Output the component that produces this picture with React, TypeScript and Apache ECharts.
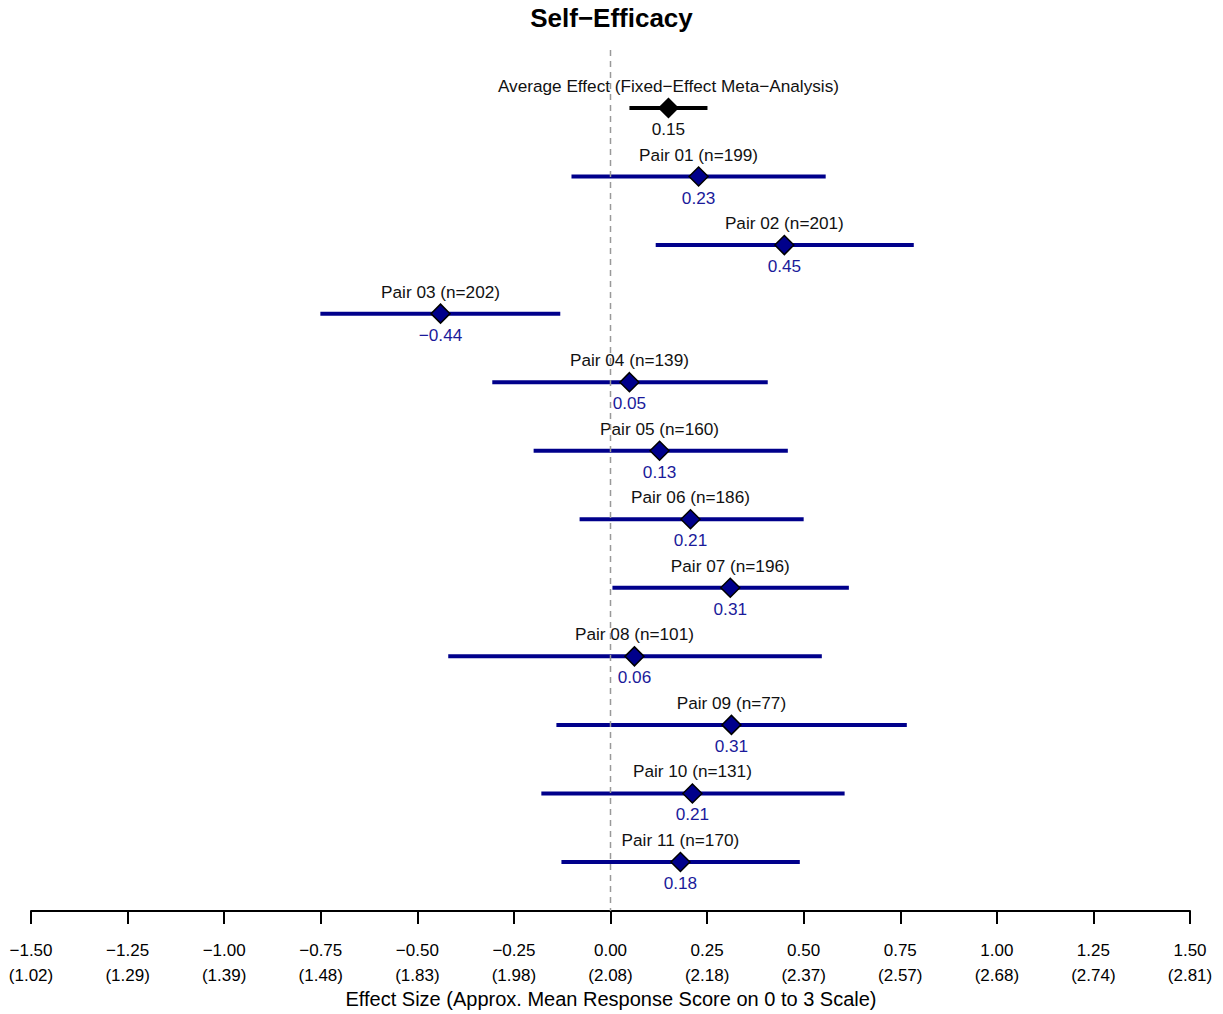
import React, { useEffect, useRef } from "react";
import * as echarts from "echarts";

const rowLabels = [
  "Average Effect (Fixed\u2212Effect Meta\u2212Analysis)",
  "Pair 01 (n=199)",
  "Pair 02 (n=201)",
  "Pair 03 (n=202)",
  "Pair 04 (n=139)",
  "Pair 05 (n=160)",
  "Pair 06 (n=186)",
  "Pair 07 (n=196)",
  "Pair 08 (n=101)",
  "Pair 09 (n=77)",
  "Pair 10 (n=131)",
  "Pair 11 (n=170)",
];
const estimates = [0.15, 0.228, 0.45, -0.44, 0.049, 0.127, 0.207, 0.31, 0.062, 0.313, 0.212, 0.181];
const lowers = [0.049, -0.101, 0.117, -0.751, -0.306, -0.199, -0.08, 0.005, -0.42, -0.14, -0.179, -0.127];
const uppers = [0.251, 0.557, 0.785, -0.13, 0.407, 0.459, 0.5, 0.617, 0.547, 0.767, 0.606, 0.49];
const tickValues = [-1.5, -1.25, -1.0, -0.75, -0.5, -0.25, 0, 0.25, 0.5, 0.75, 1.0, 1.25, 1.5];
const tickScores = ["1.02", "1.29", "1.39", "1.48", "1.83", "1.98", "2.08", "2.18", "2.37", "2.57", "2.68", "2.74", "2.81"];

const FONT = "'Liberation Sans', Arial, sans-serif";
const NAVY = "#00008B";

const fmt = (v: number) => {
  const s = Math.abs(v).toFixed(2);
  return v < 0 ? "\u2212" + s : s;
};

export default function App() {
  const ref = useRef<HTMLDivElement>(null);
  useEffect(() => {
    if (!ref.current) return;
    const chart = echarts.init(ref.current, undefined, { renderer: "svg" });
    const data = rowLabels.map((_, i) => [i, lowers[i], uppers[i], estimates[i]]);
    chart.setOption({
      animation: false,
      backgroundColor: "#fff",
      title: {
        text: "Self\u2212Efficacy",
        left: "center",
        top: 0,
        textStyle: { fontFamily: FONT, fontSize: 26, fontWeight: "bold", color: "#000" },
      },
      grid: { left: 31, right: 33, top: 50, bottom: 103, containLabel: false },
      xAxis: {
        type: "value",
        min: -1.5,
        max: 1.5,
        interval: 0.25,
        axisLine: { show: true, onZero: false, lineStyle: { color: "#000", width: 2 } },
        axisTick: { show: true, length: 13, lineStyle: { color: "#000", width: 2 } },
        splitLine: { show: false },
        axisLabel: {
          margin: 27,
          fontFamily: FONT,
          fontSize: 17,
          color: "#000",
          lineHeight: 25,
          formatter: (v: number) => {
            const idx = tickValues.findIndex((t) => Math.abs(t - v) < 1e-6);
            return fmt(v) + "\n(" + (idx >= 0 ? tickScores[idx] : "") + ")";
          },
        },
      },
      yAxis: {
        type: "value",
        min: -0.846,
        max: 11.715,
        inverse: true,
        show: false,
      },
      graphic: [
        {
          type: "text",
          x: 611,
          y: 999,
          style: {
            text: "Effect Size (Approx. Mean Response Score on 0 to 3 Scale)",
            fontFamily: FONT,
            fontSize: 20,
            fill: "#000",
            align: "center",
            verticalAlign: "middle",
          },
        },
      ],
      series: [
        {
          type: "line",
          data: [[0, -0.846], [0, 11.715]],
          symbol: "none",
          lineStyle: { color: "#999", width: 1.5, type: [6, 5] },
          silent: true,
        },
        {
          type: "custom",
          data,
          encode: { x: [1, 2, 3], y: 0 },
          renderItem: (params: any, api: any) => {
            const i = api.value(0);
            const lo = api.coord([api.value(1), i]);
            const hi = api.coord([api.value(2), i]);
            const pt = api.coord([api.value(3), i]);
            const color = i === 0 ? "#000" : NAVY;
            const s = 9.5;
            return {
              type: "group",
              children: [
                {
                  type: "line",
                  shape: { x1: lo[0], y1: lo[1], x2: hi[0], y2: hi[1] },
                  style: { stroke: color, lineWidth: 4 },
                },
                {
                  type: "polygon",
                  shape: {
                    points: [
                      [pt[0], pt[1] - s],
                      [pt[0] + s, pt[1]],
                      [pt[0], pt[1] + s],
                      [pt[0] - s, pt[1]],
                    ],
                  },
                  style: { fill: color, stroke: "#000", lineWidth: 1.5 },
                },
                {
                  type: "text",
                  x: pt[0],
                  y: pt[1] - 22,
                  style: {
                    text: rowLabels[i],
                    fontFamily: FONT,
                    fontSize: 17.2,
                    fill: "#111",
                    align: "center",
                    verticalAlign: "middle",
                  },
                },
                {
                  type: "text",
                  x: pt[0],
                  y: pt[1] + 21,
                  style: {
                    text: fmt(estimates[i]),
                    fontFamily: FONT,
                    fontSize: 17.2,
                    fill: i === 0 ? "#111" : "#1a1a9a",
                    align: "center",
                    verticalAlign: "middle",
                  },
                },
              ],
            };
          },
        },
      ],
    });
    return () => chart.dispose();
  }, []);
  return (
    <div
      ref={ref}
      style={{ position: "fixed", left: 0, top: 0, width: 1223, height: 1014, background: "#fff" }}
    />
  );
}
